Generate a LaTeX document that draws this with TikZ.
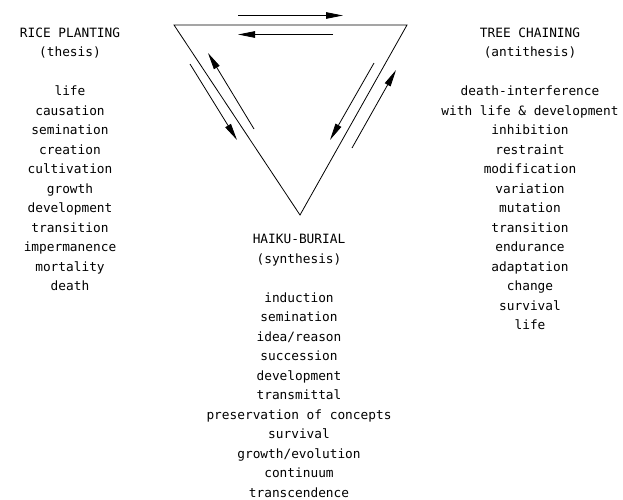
\documentclass[tikz,border=0pt]{standalone}
\usepackage{fontspec}
\setmonofont{DejaVu Sans Mono}
\usetikzlibrary{arrows.meta}
\begin{document}
\begin{tikzpicture}[x=1pt,y=-1pt,
  col/.style={align=center,inner sep=0pt,anchor=north,font=\ttfamily\fontsize{12.8}{19.5}\selectfont},
  edge/.style={line width=0.8pt},
  flow/.style={line width=0.8pt,-{Triangle[length=17pt,width=6.5pt]}}]
\useasboundingbox (0,0) rectangle (623,499);
% triangle vertices
\coordinate (tl) at (174,25);
\coordinate (tr) at (407,25);
\coordinate (bt) at (300,215);
\draw[edge] (tl) -- (tr) -- (bt) -- cycle;
% arrow end points
\coordinate (a1s) at (238,15.5); \coordinate (a1e) at (343,15.5);
\coordinate (a2s) at (333,34.5); \coordinate (a2e) at (238,34.5);
\coordinate (a3s) at (190,64);   \coordinate (a3e) at (237,140);
\coordinate (a4s) at (254,129);  \coordinate (a4e) at (208,53);
\coordinate (a5s) at (374,63);   \coordinate (a5e) at (330,140);
\coordinate (a6s) at (352,148);  \coordinate (a6e) at (396,70);
\draw[flow] (a1s) -- (a1e);
\draw[flow] (a2s) -- (a2e);
\draw[flow] (a3s) -- (a3e);
\draw[flow] (a4s) -- (a4e);
\draw[flow] (a5s) -- (a5e);
\draw[flow] (a6s) -- (a6e);
% columns
\node[col] (thesis) at (70,27.5) {RICE PLANTING\\(thesis)\\[19.5pt]life\\causation\\semination\\creation\\cultivation\\growth\\development\\transition\\impermanence\\mortality\\death};
\node[col] (anti) at (530,27.5) {TREE CHAINING\\(antithesis)\\[19.5pt]death-interference\\with life \& development\\inhibition\\restraint\\modification\\variation\\mutation\\transition\\endurance\\adaptation\\change\\survival\\life};
\node[col] (synth) at (299,234) {HAIKU-BURIAL\\(synthesis)\\[19.5pt]induction\\semination\\idea/reason\\succession\\development\\transmittal\\preservation of concepts\\survival\\growth/evolution\\continuum\\transcendence};
\end{tikzpicture}
\end{document}
